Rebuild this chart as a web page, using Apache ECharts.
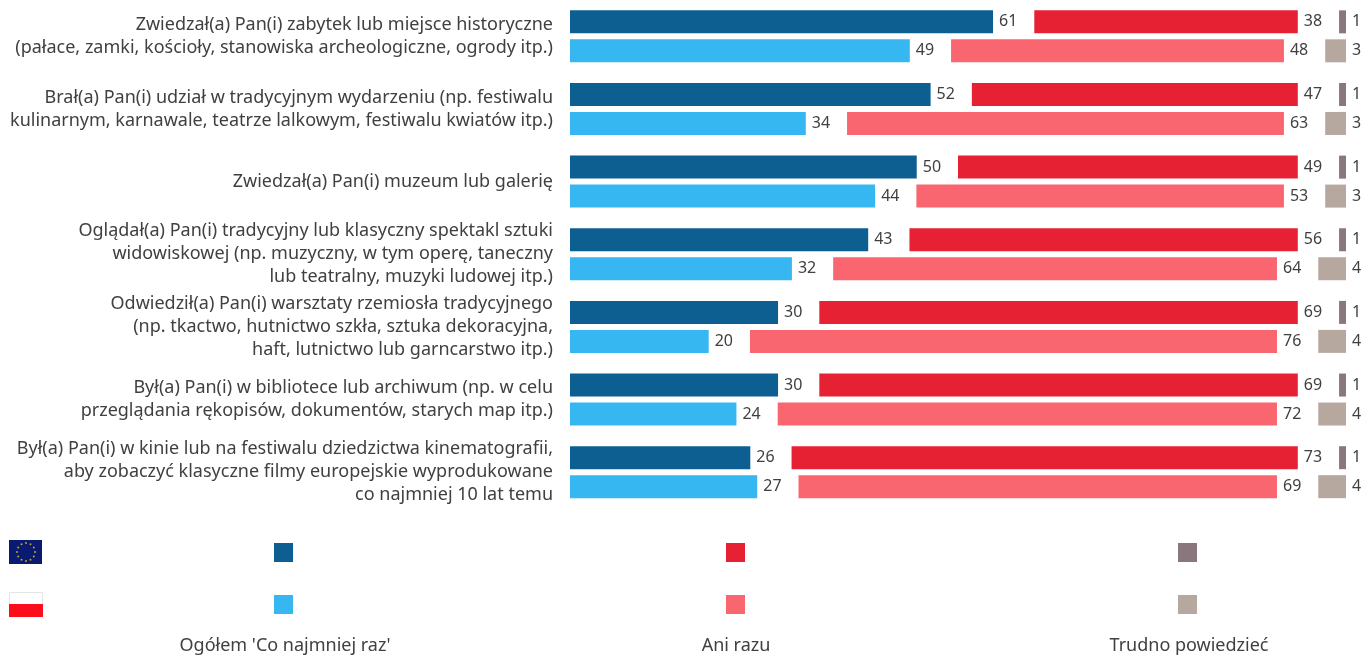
<!DOCTYPE html>
<html>
<head>
<meta charset="utf-8">
<script src="https://cdn.jsdelivr.net/npm/echarts@6/dist/echarts.min.js"></script>
<style>
html, body { margin: 0; padding: 0; background: #fff; }
#chart { width: 1364px; height: 655px; }
</style>
</head>
<body>
<div id="chart"></div>
<script>
const categories = [
    'Zwiedzał(a) Pan(i) zabytek lub miejsce historyczne\n(pałace, zamki, kościoły, stanowiska archeologiczne, ogrody itp.)',
    'Brał(a) Pan(i) udział w tradycyjnym wydarzeniu (np. festiwalu\nkulinarnym, karnawale, teatrze lalkowym, festiwalu kwiatów itp.)',
    'Zwiedzał(a) Pan(i) muzeum lub galerię',
    'Oglądał(a) Pan(i) tradycyjny lub klasyczny spektakl sztuki\nwidowiskowej (np. muzyczny, w tym operę, taneczny\nlub teatralny, muzyki ludowej itp.)',
    'Odwiedził(a) Pan(i) warsztaty rzemiosła tradycyjnego\n(np. tkactwo, hutnictwo szkła, sztuka dekoracyjna,\nhaft, lutnictwo lub garncarstwo itp.)',
    'Był(a) Pan(i) w bibliotece lub archiwum (np. w celu\nprzeglądania rękopisów, dokumentów, starych map itp.)',
    'Był(a) Pan(i) w kinie lub na festiwalu dziedzictwa kinematografii,\naby zobaczyć klasyczne filmy europejskie wyprodukowane\nco najmniej 10 lat temu'
];
const euTotal = [61, 52, 50, 43, 30, 30, 26];
const euNone = [38, 47, 49, 56, 69, 69, 73];
const euUnsure = [1, 1, 1, 1, 1, 1, 1];
const plTotal = [49, 34, 44, 32, 20, 24, 27];
const plNone = [48, 63, 53, 64, 76, 72, 69];
const plUnsure = [3, 3, 3, 4, 4, 4, 4];
const legendLabels = ["Ogółem 'Co najmniej raz'", 'Ani razu', 'Trudno powiedzieć'];

// white space between the three blocks of a row, in axis units
const GAP = 5.95;
const FONT = '"Noto Sans"';
const TEXT = '#404040';

function valueBar(name, stack, data, color) {
    return {
        name: name, type: 'bar', stack: stack, data: data,
        barWidth: 23, barGap: '26%',
        itemStyle: { color: color },
        label: { show: true, position: 'right', distance: 6, color: TEXT, fontFamily: FONT, fontSize: 16 },
        emphasis: { disabled: true }
    };
}

function spacer(stack) {
    return {
        type: 'bar', stack: stack, data: categories.map(() => GAP),
        barWidth: 23, barGap: '26%', silent: true,
        itemStyle: { color: 'transparent' }
    };
}

function legendRow(top, names) {
    return {
        left: 269, top: top, orient: 'horizontal', data: names,
        icon: 'rect', itemWidth: 19, itemHeight: 19, itemGap: 433,
        selectedMode: false, formatter: () => '',
        textStyle: { fontSize: 1 }
    };
}

// eu flag stars, placed round a circle
const stars = [];
for (let i = 0; i < 12; i++) {
    const a = i * Math.PI / 6;
    stars.push({
        type: 'circle',
        shape: { cx: 26 + 9 * Math.cos(a), cy: 552 + 9 * Math.sin(a), r: 1 },
        style: { fill: '#b9a52c' }
    });
}

echarts.init(document.querySelector('#chart')).setOption({
    animation: false,
    grid: { left: 570, right: 18, top: -1.5, height: 510, containLabel: false },
    xAxis: { type: 'value', min: 0, max: 100 + 2 * GAP, show: false },
    yAxis: {
        type: 'category', inverse: true, data: categories,
        axisLine: { show: false }, axisTick: { show: false },
        axisLabel: { align: 'right', margin: 17, color: TEXT, fontFamily: FONT, fontSize: 18, lineHeight: 23, interval: 0 }
    },
    legend: [
        legendRow(538, ['UE Ogółem', 'UE Ani razu', 'UE Trudno powiedzieć']),
        legendRow(590, ['PL Ogółem', 'PL Ani razu', 'PL Trudno powiedzieć'])
    ],
    series: [
        valueBar('UE Ogółem', 'eu', euTotal, '#0e5f91'),
        spacer('eu'),
        valueBar('UE Ani razu', 'eu', euNone, '#e62134'),
        spacer('eu'),
        valueBar('UE Trudno powiedzieć', 'eu', euUnsure, '#8a767d'),
        valueBar('PL Ogółem', 'pl', plTotal, '#36b7f1'),
        spacer('pl'),
        valueBar('PL Ani razu', 'pl', plNone, '#f9666f'),
        spacer('pl'),
        valueBar('PL Trudno powiedzieć', 'pl', plUnsure, '#b6a79f')
    ],
    graphic: [
        { type: 'rect', shape: { x: 9, y: 540, width: 33, height: 24 }, style: { fill: '#0a1a70' } }
    ].concat(stars, [
        { type: 'rect', shape: { x: 9.5, y: 592.5, width: 33, height: 12 }, style: { fill: '#fff', stroke: '#e4e4e4' } },
        { type: 'rect', shape: { x: 9, y: 604, width: 34, height: 13 }, style: { fill: '#fb0d1b' } },
        { type: 'text', x: 285, y: 646, style: { text: legendLabels[0], align: 'center', verticalAlign: 'middle', fill: TEXT, font: '18px ' + FONT } },
        { type: 'text', x: 736, y: 646, style: { text: legendLabels[1], align: 'center', verticalAlign: 'middle', fill: TEXT, font: '18px ' + FONT } },
        { type: 'text', x: 1189, y: 646, style: { text: legendLabels[2], align: 'center', verticalAlign: 'middle', fill: TEXT, font: '18px ' + FONT } }
    ])
});
</script>
</body>
</html>
